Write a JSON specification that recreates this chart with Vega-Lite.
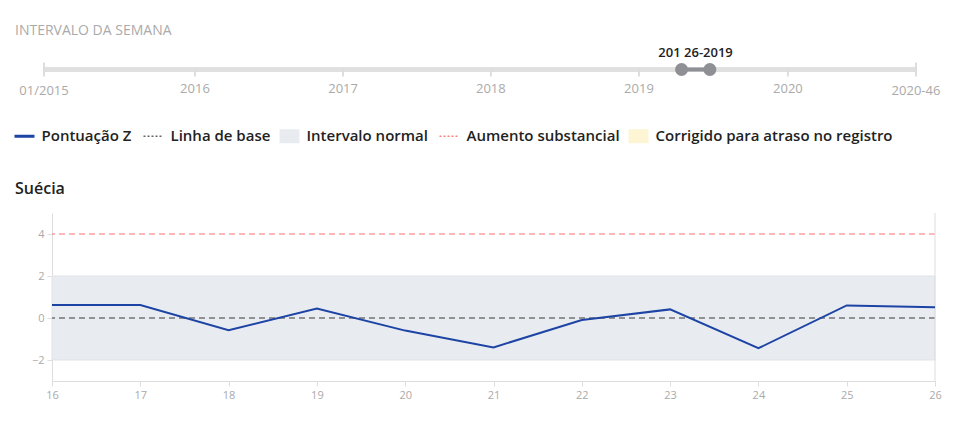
{
  "$schema": "https://vega.github.io/schema/vega-lite/v6.json",
  "background": "white",
  "padding": {"left": 15, "top": 23.5, "right": 10, "bottom": 5},
  "spacing": 82.5,
  "align": "none",
  "config": {
    "view": {"stroke": null},
    "font": "Open Sans",
    "axis": {
      "grid": false,
      "title": null,
      "domainColor": "#dddddd",
      "tickColor": "#dddddd",
      "labelColor": "#aaaaaa",
      "labelFontSize": 11,
      "tickSize": 5,
      "labelPadding": 3,
      "labelFlush": false
    }
  },
  "datasets": {
    "trilho": [{"inicio": 0, "fim": 305}],
    "marcos": [
      {"w": 0, "rotulo": "01/2015", "tipo": "fim"},
      {"w": 52.8, "rotulo": "2016", "tipo": "ano"},
      {"w": 104.6, "rotulo": "2017", "tipo": "ano"},
      {"w": 156.3, "rotulo": "2018", "tipo": "ano"},
      {"w": 208.1, "rotulo": "2019", "tipo": "ano"},
      {"w": 260.2, "rotulo": "2020", "tipo": "ano"},
      {"w": 305, "rotulo": "2020-46", "tipo": "fim"}
    ],
    "selecao": [{"inicio": 223, "fim": 232.9, "meio": 227.9, "rotulo": "201 26-2019"}],
    "alcas": [{"w": 223}, {"w": 232.9}],
    "semanas": [
      {"semana": 16, "z": 0.62, "serie": "Pontuação Z"},
      {"semana": 17, "z": 0.62, "serie": "Pontuação Z"},
      {"semana": 18, "z": -0.58, "serie": "Pontuação Z"},
      {"semana": 19, "z": 0.45, "serie": "Pontuação Z"},
      {"semana": 20, "z": -0.6, "serie": "Pontuação Z"},
      {"semana": 21, "z": -1.4, "serie": "Pontuação Z"},
      {"semana": 22, "z": -0.1, "serie": "Pontuação Z"},
      {"semana": 23, "z": 0.41, "serie": "Pontuação Z"},
      {"semana": 24, "z": -1.44, "serie": "Pontuação Z"},
      {"semana": 25, "z": 0.6, "serie": "Pontuação Z"},
      {"semana": 26, "z": 0.51, "serie": "Pontuação Z"}
    ],
    "faixa": [{"serie": "Intervalo normal", "lo": -2, "hi": 2}],
    "base": [{"serie": "Linha de base", "v": 0}],
    "aumento": [{"serie": "Aumento substancial", "v": 4}]
  },
  "vconcat": [
    {
      "title": {"text": "INTERVALO DA SEMANA", "anchor": "start", "frame": "group", "dx": -37, "fontSize": 14, "fontWeight": "normal", "color": "#aaaaaa", "offset": 9},
      "width": 864,
      "height": 20,
      "layer": [
        {
          "data": {"name": "trilho"},
          "mark": {"type": "rule", "strokeWidth": 5, "color": "#e0e0e0", "strokeCap": "butt"},
          "encoding": {
            "x": {"field": "inicio", "type": "quantitative", "scale": {"domain": [0, 305], "range": [-8, 864], "nice": false, "zero": false}, "axis": null},
            "x2": {"field": "fim"},
            "y": {"datum": 0.5, "type": "quantitative", "scale": {"domain": [0, 1]}, "axis": null}
          }
        },
        {
          "data": {"name": "marcos"},
          "transform": [{"filter": "datum.tipo === 'fim'"}],
          "mark": {"type": "rule", "strokeWidth": 2, "color": "#dddddd"},
          "encoding": {
            "x": {"field": "w", "type": "quantitative"},
            "y": {"datum": 0.85, "type": "quantitative"},
            "y2": {"datum": 0.15}
          }
        },
        {
          "data": {"name": "marcos"},
          "transform": [{"filter": "datum.tipo === 'ano'"}],
          "mark": {"type": "rule", "strokeWidth": 2, "color": "#dddddd"},
          "encoding": {
            "x": {"field": "w", "type": "quantitative"},
            "y": {"datum": 0.5, "type": "quantitative"},
            "y2": {"datum": 0.15}
          }
        },
        {
          "data": {"name": "marcos"},
          "transform": [{"filter": "datum.tipo === 'ano'"}],
          "mark": {"type": "text", "fontSize": 13, "color": "#aaaaaa", "baseline": "middle", "dy": 9},
          "encoding": {
            "x": {"field": "w", "type": "quantitative"},
            "y": {"datum": 0, "type": "quantitative"},
            "text": {"field": "rotulo"}
          }
        },
        {
          "data": {"name": "marcos"},
          "transform": [{"filter": "datum.tipo === 'fim'"}],
          "mark": {"type": "text", "fontSize": 13, "color": "#aaaaaa", "baseline": "middle", "dy": 11},
          "encoding": {
            "x": {"field": "w", "type": "quantitative"},
            "y": {"datum": 0, "type": "quantitative"},
            "text": {"field": "rotulo"}
          }
        },
        {
          "data": {"name": "selecao"},
          "mark": {"type": "rule", "strokeWidth": 4, "color": "#8e9096"},
          "encoding": {
            "x": {"field": "inicio", "type": "quantitative"},
            "x2": {"field": "fim"},
            "y": {"datum": 0.5, "type": "quantitative"}
          }
        },
        {
          "data": {"name": "alcas"},
          "mark": {"type": "circle", "size": 170, "color": "#8e9096", "opacity": 1},
          "encoding": {
            "x": {"field": "w", "type": "quantitative"},
            "y": {"datum": 0.5, "type": "quantitative"}
          }
        },
        {
          "data": {"name": "selecao"},
          "mark": {"type": "text", "fontSize": 13, "color": "#222222", "baseline": "middle", "dy": -17, "fontWeight": 600},
          "encoding": {
            "x": {"field": "meio", "type": "quantitative"},
            "y": {"datum": 0.5, "type": "quantitative"},
            "text": {"field": "rotulo"}
          }
        }
      ]
    },
    {
      "title": {"text": "Suécia", "anchor": "start", "frame": "group", "dx": -37, "fontSize": 16, "fontWeight": 600, "color": "#222222", "offset": 16},
      "width": 883,
      "height": 168,
      "encoding": {
        "color": {
          "field": "serie",
          "type": "nominal",
          "scale": {
            "domain": ["Pontuação Z", "Linha de base", "Intervalo normal", "Aumento substancial", "Corrigido para atraso no registro"],
            "range": ["#1d44a4", "#666666", "#e8ecf1", "#ff7f7f", "#fdf5d3"]
          },
          "legend": {
            "orient": "none",
            "legendX": -35,
            "legendY": 69,
            "direction": "horizontal",
            "title": null,
            "symbolSize": 400,
            "labelFontSize": 15,
            "labelFontWeight": 600,
            "labelColor": "#222222",
            "labelLimit": 400,
            "columnPadding": 8,
            "labelOffset": 9.5,
            "encode": {
              "symbols": {
                "update": {
                  "shape": {"signal": "indexof(['Intervalo normal','Corrigido para atraso no registro'], datum.value) >= 0 ? 'M-1,-0.7H1V0.7H-1Z' : 'stroke'"},
                  "strokeDash": {"signal": "indexof(['Linha de base','Aumento substancial'], datum.value) >= 0 ? [2,2] : [1,0]"},
                  "strokeWidth": {"signal": "datum.value === 'Pontuação Z' ? 3 : (indexof(['Intervalo normal','Corrigido para atraso no registro'], datum.value) >= 0 ? 0 : 1.5)"},
                  "fill": {"signal": "scale('color', datum.value)"},
                  "stroke": {"signal": "scale('color', datum.value)"},
                  "opacity": {"value": 1},
                  "fillOpacity": {"value": 1},
                  "strokeOpacity": {"value": 1}
                }
              }
            }
          }
        }
      },
      "layer": [
        {
          "data": {"name": "faixa"},
          "mark": {"type": "rect", "stroke": "#dfe3e8", "strokeWidth": 1},
          "encoding": {
            "x": {"datum": 16, "type": "quantitative"},
            "x2": {"datum": 26},
            "y": {"field": "lo", "type": "quantitative"},
            "y2": {"field": "hi"}
          }
        },
        {
          "data": {"name": "base"},
          "mark": {"type": "rule", "strokeDash": [6, 4], "strokeWidth": 1.5, "opacity": 0.9},
          "encoding": {
            "y": {"field": "v", "type": "quantitative"}
          }
        },
        {
          "data": {"name": "aumento"},
          "mark": {"type": "rule", "strokeDash": [6, 4], "strokeWidth": 1.5, "opacity": 0.75},
          "encoding": {
            "y": {"field": "v", "type": "quantitative"}
          }
        },
        {
          "data": {"name": "faixa"},
          "mark": {"type": "rule", "color": "#dddddd", "strokeWidth": 1},
          "encoding": {
            "x": {"datum": 26, "type": "quantitative"},
            "color": {"value": "#dddddd"}
          }
        },
        {
          "data": {"name": "semanas"},
          "mark": {"type": "line", "strokeWidth": 2},
          "encoding": {
            "x": {"field": "semana", "type": "quantitative", "scale": {"domain": [16, 26], "nice": false, "zero": false}, "axis": {"values": [16, 17, 18, 19, 20, 21, 22, 23, 24, 25, 26], "format": "d"}},
            "y": {"field": "z", "type": "quantitative", "scale": {"domain": [-3, 5], "nice": false, "zero": false}, "axis": {"values": [-2, 0, 2, 4], "format": "d"}}
          }
        }
      ]
    }
  ]
}
